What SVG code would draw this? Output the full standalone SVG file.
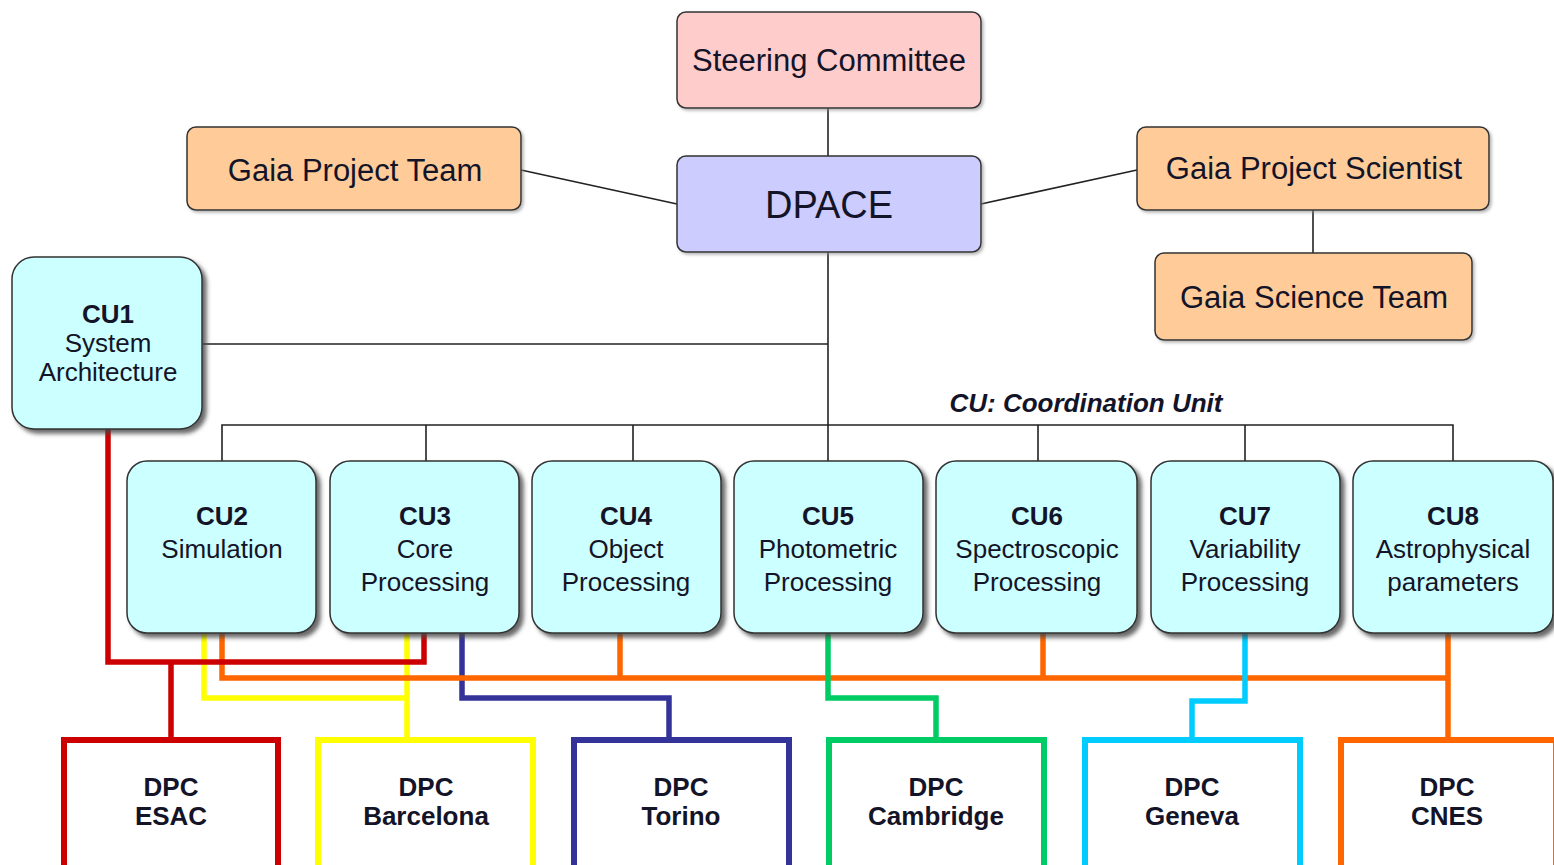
<svg xmlns="http://www.w3.org/2000/svg" width="1554" height="865" viewBox="0 0 1554 865">
<defs>
<filter id="sh" x="-10%" y="-10%" width="130%" height="130%">
<feDropShadow dx="4" dy="4" stdDeviation="2" flood-color="#444" flood-opacity="0.8"/>
</filter>
<filter id="sh2" x="-10%" y="-10%" width="130%" height="130%">
<feDropShadow dx="2" dy="2" stdDeviation="1.5" flood-color="#888" flood-opacity="0.6"/>
</filter>
</defs>
<style>
text{font-family:"Liberation Sans",Arial,sans-serif;fill:#141428;text-anchor:middle}
.top{font-size:31px}
.cu{fill:#ccffff;stroke:#333;stroke-width:1.5}
.cut{font-size:26px}
.b{font-weight:bold}
.dpc{fill:#fff;stroke-width:6}
.blk{stroke:#222;stroke-width:1.6;fill:none}
.col{fill:none;stroke-width:5.5;stroke-linecap:square;stroke-linejoin:miter}
</style>
<rect width="1554" height="865" fill="#fff"/>

<g id="connectors">
<line class="blk" x1="828" y1="108" x2="828" y2="156"/>
<line class="blk" x1="521" y1="170" x2="677" y2="204"/>
<line class="blk" x1="981" y1="204" x2="1137" y2="170"/>
<line class="blk" x1="1313" y1="210" x2="1313" y2="253"/>
<line class="blk" x1="828" y1="252" x2="828" y2="461"/>
<line class="blk" x1="203" y1="344" x2="828" y2="344"/>
<path class="blk" d="M222 461V425H1453V461M426 425V461M633 425V461M1038 425V461M1245 425V461"/>
<path class="col" stroke="#ffff00" d="M204 636V698H407M407 636V739"/>
<path class="col" stroke="#333399" d="M462 636V698H669V739"/>
<path class="col" stroke="#ff6600" d="M222 636V678H1448M620 636V678M1043 636V678M1448 636V739"/>
<path class="col" stroke="#cc0000" d="M108 432V662H424V636M171 662V739"/>
<path class="col" stroke="#00cc66" d="M828 636V698H936V739"/>
<path class="col" stroke="#00ccff" d="M1245 636V701H1192V739"/>
</g>

<g id="steering"><rect x="677" y="12" width="304" height="96" rx="9" fill="#ffcccc" stroke="#333" stroke-width="1.5" filter="url(#sh2)"/><text class="top" x="829" y="71">Steering Committee</text></g>
<g id="dpace"><rect x="677" y="156" width="304" height="96" rx="9" fill="#ccccff" stroke="#333" stroke-width="1.5" filter="url(#sh2)"/><text x="829" y="218" style="font-size:38px">DPACE</text></g>
<g id="gpt"><rect x="187" y="127" width="334" height="83" rx="9" fill="#ffcc99" stroke="#333" stroke-width="1.5" filter="url(#sh2)"/><text class="top" x="355" y="181">Gaia Project Team</text></g>
<g id="gps"><rect x="1137" y="127" width="352" height="83" rx="9" fill="#ffcc99" stroke="#333" stroke-width="1.5" filter="url(#sh2)"/><text class="top" x="1314" y="179">Gaia Project Scientist</text></g>
<g id="gst"><rect x="1155" y="253" width="317" height="87" rx="9" fill="#ffcc99" stroke="#333" stroke-width="1.5" filter="url(#sh2)"/><text class="top" x="1314" y="308">Gaia Science Team</text></g>

<g id="cu1"><rect class="cu" x="12" y="257" width="190" height="172" rx="22" filter="url(#sh)"/><text class="cut b" x="108" y="323">CU1</text><text class="cut" x="108" y="352">System</text><text class="cut" x="108" y="381">Architecture</text></g>

<text id="cu-label" x="1086" y="412" class="b" style="font-size:26px;font-style:italic">CU: Coordination Unit</text>

<g id="cu2"><rect class="cu" x="127" y="461" width="189" height="172" rx="20" filter="url(#sh)"/><text class="cut b" x="222" y="525">CU2</text><text class="cut" x="222" y="558">Simulation</text></g>
<g id="cu3"><rect class="cu" x="330" y="461" width="189" height="172" rx="20" filter="url(#sh)"/><text class="cut b" x="425" y="525">CU3</text><text class="cut" x="425" y="558">Core</text><text class="cut" x="425" y="591">Processing</text></g>
<g id="cu4"><rect class="cu" x="532" y="461" width="189" height="172" rx="20" filter="url(#sh)"/><text class="cut b" x="626" y="525">CU4</text><text class="cut" x="626" y="558">Object</text><text class="cut" x="626" y="591">Processing</text></g>
<g id="cu5"><rect class="cu" x="734" y="461" width="189" height="172" rx="20" filter="url(#sh)"/><text class="cut b" x="828" y="525">CU5</text><text class="cut" x="828" y="558">Photometric</text><text class="cut" x="828" y="591">Processing</text></g>
<g id="cu6"><rect class="cu" x="936" y="461" width="201" height="172" rx="20" filter="url(#sh)"/><text class="cut b" x="1037" y="525">CU6</text><text class="cut" x="1037" y="558">Spectroscopic</text><text class="cut" x="1037" y="591">Processing</text></g>
<g id="cu7"><rect class="cu" x="1151" y="461" width="189" height="172" rx="20" filter="url(#sh)"/><text class="cut b" x="1245" y="525">CU7</text><text class="cut" x="1245" y="558">Variability</text><text class="cut" x="1245" y="591">Processing</text></g>
<g id="cu8"><rect class="cu" x="1353" y="461" width="200" height="172" rx="20" filter="url(#sh)"/><text class="cut b" x="1453" y="525">CU8</text><text class="cut" x="1453" y="558">Astrophysical</text><text class="cut" x="1453" y="591">parameters</text></g>

<g id="dpc-esac"><rect class="dpc" stroke="#cc0000" x="64" y="740" width="214" height="140"/><text class="cut b" x="171" y="796">DPC</text><text class="cut b" x="171" y="825">ESAC</text></g>
<g id="dpc-barcelona"><rect class="dpc" stroke="#ffff00" x="318" y="740" width="215" height="140"/><text class="cut b" x="426" y="796">DPC</text><text class="cut b" x="426" y="825">Barcelona</text></g>
<g id="dpc-torino"><rect class="dpc" stroke="#333399" x="574" y="740" width="215" height="140"/><text class="cut b" x="681" y="796">DPC</text><text class="cut b" x="681" y="825">Torino</text></g>
<g id="dpc-cambridge"><rect class="dpc" stroke="#00cc66" x="829" y="740" width="215" height="140"/><text class="cut b" x="936" y="796">DPC</text><text class="cut b" x="936" y="825">Cambridge</text></g>
<g id="dpc-geneva"><rect class="dpc" stroke="#00ccff" x="1085" y="740" width="215" height="140"/><text class="cut b" x="1192" y="796">DPC</text><text class="cut b" x="1192" y="825">Geneva</text></g>
<g id="dpc-cnes"><rect class="dpc" stroke="#ff6600" x="1341" y="740" width="215" height="140"/><text class="cut b" x="1447" y="796">DPC</text><text class="cut b" x="1447" y="825">CNES</text></g>
</svg>
